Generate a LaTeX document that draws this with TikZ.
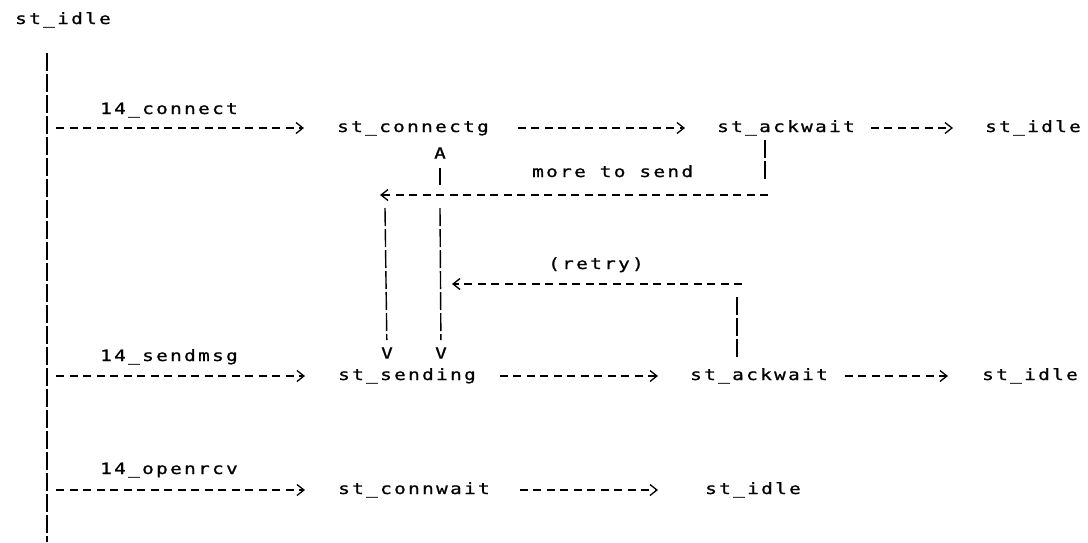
\documentclass[tikz,border=0pt]{standalone}
\usepackage{fontspec}
\usetikzlibrary{arrows.meta}
\newfontfamily\asciifont[FakeStretch=1.25,FakeBold=1,LetterSpace=15]{DejaVu Sans Mono}

\tikzset{
  lbl/.style={font={\asciifont\fontsize{15.5}{15.5}\selectfont}, inner sep=0pt,
              anchor=west, text height=11pt, text depth=3pt},
  tipchar/.style={font={\asciifont\fontsize{15.5}{15.5}\selectfont}, inner sep=0pt},
  dashline/.style={line width=1.3pt, dash pattern=on 8pt off 5.5pt,
                   -{Straight Barb[length=7pt,width=11pt]}},
  bar/.style={line width=1.4pt, dash pattern=on 18pt off 3pt},
}

\begin{document}
\begin{tikzpicture}[x=1pt,y=-1pt]
  \useasboundingbox (0,0) rectangle (1088,542);
  % etats
  \node[lbl] (top)      at (15,20)   {st\_idle};
  \node[lbl] (cg)       at (337,128) {st\_connectg};
  \node[lbl] (ack1)     at (717,128) {st\_ackwait};
  \node[lbl] (idle1)    at (985,128) {st\_idle};
  \node[lbl] (sending)  at (338,376) {st\_sending};
  \node[lbl] (ack2)     at (690,376) {st\_ackwait};
  \node[lbl] (idle2)    at (982,376) {st\_idle};
  \node[lbl] (connwait) at (338,490) {st\_connwait};
  \node[lbl] (idle3)    at (705,490) {st\_idle};
  % evenements
  \node[lbl] (lconnect) at (100,110) {14\_connect};
  \node[lbl] (lsendmsg) at (100,357) {14\_sendmsg};
  \node[lbl] (lopenrcv) at (100,470) {14\_openrcv};
  \node[lbl] (lmore)    at (532,173) {more to send};
  \node[lbl] (lretry)   at (548,265) {(retry)};
  % pointes en lettres
  \node[tipchar] (A)  at (440,153) {A};
  \node[tipchar] (V1) at (387,353) {V};
  \node[tipchar] (V2) at (441,353) {V};

  % tronc
  \coordinate (trtop) at (47,53);
  \coordinate (trbot) at (47,542);
  \draw[bar] (trtop) -- (trbot);
  \coordinate (b1) at (56,128);
  \coordinate (b2) at (56,376);
  \coordinate (b3) at (56,490);
  \draw[dashline, shorten >=33pt] (b1) -- (cg);
  \draw[dashline, shorten >=33pt] (b2) -- (sending);
  \draw[dashline, shorten >=33pt] (b3) -- (connwait);

  % rangees
  \draw[dashline, shorten <=29pt, shorten >=32pt] (cg) -- (ack1);
  \draw[dashline, shorten <=16pt, shorten >=32pt] (ack1) -- (idle1);
  \draw[dashline, shorten <=24pt, shorten >=32pt] (sending) -- (ack2);
  \draw[dashline, shorten <=17pt, shorten >=34pt] (ack2) -- (idle2);
  \draw[dashline, shorten <=30pt, shorten >=47pt] (connwait) -- (idle3);

  % more to send
  \coordinate (m1) at (765,182);
  \coordinate (m2) at (768,195);
  \coordinate (m3) at (380,195);
  \coordinate (l1) at (385,208);
  \draw[bar, shorten <=5pt] (ack1.south -| m1) -- (m1);
  \draw[dashline] (m2) -- (m3);
  \draw[bar, shorten >=7pt] (l1) -- (V1);

  % ligne A / V
  \coordinate (a1) at (440,185);
  \coordinate (a2) at (440,208);
  \draw[bar, shorten <=9pt] (A) -- (a1);
  \draw[bar, shorten >=7pt] (a2) -- (V2);

  % retry
  \coordinate (r1) at (737,297);
  \coordinate (r2) at (742,284);
  \coordinate (r3) at (452,284);
  \draw[bar, shorten >=9pt] (r1) -- (ack2.north -| r1);
  \draw[dashline] (r2) -- (r3);
\end{tikzpicture}
\end{document}
